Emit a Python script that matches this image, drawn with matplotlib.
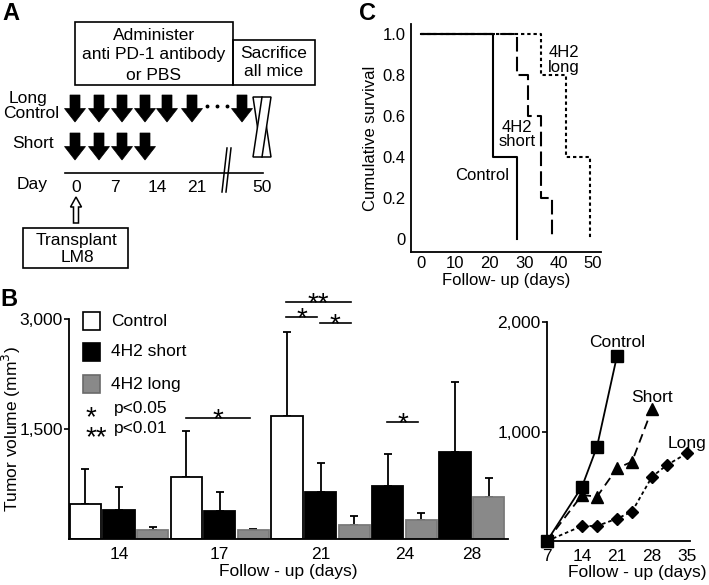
import matplotlib
matplotlib.use('Agg')
import matplotlib.pyplot as plt
from matplotlib.patches import Rectangle, Polygon

plt.rcParams['font.family'] = ['Liberation Sans', 'DejaVu Sans']
plt.rcParams['font.size'] = 12
plt.rcParams['axes.linewidth'] = 1.3

W, H = 709, 585

# ---------------- Panel C: survival ----------------
surv_ctrl_days = [0, 21, 28]
surv_ctrl = [1.0, 0.4, 0.0]
surv_short_days = [0, 28, 31, 35, 38]
surv_short = [1.0, 0.8, 0.6, 0.2, 0.0]
surv_long_days = [0, 35, 42, 49]
surv_long = [1.0, 0.8, 0.4, 0.0]
surv_yticks = [0, 0.2, 0.4, 0.6, 0.8, 1.0]
surv_yticklabels = ['0', '0.2', '0.4', '0.6', '0.8', '1.0']
surv_xticks = [0, 10, 20, 30, 40, 50]

# ---------------- Panel B: bars ----------------
bar_days = ['14', '17', '21', '24', '28']
ctrl_mean = [482, 845, 1682, None, None]
ctrl_err = [473, 623, 1140, None, None]
short_mean = [400, 377, 641, 723, 1186]
short_err = [309, 268, 391, 436, 955]
long_mean = [118, 127, 195, 255, 568]
long_err = [46, 9, 114, 95, 259]
bar_yticks = [1500, 3000]
bar_yticklabels = ['1,500', '3,000']

# ---------------- Panel B: growth curves ----------------
curve_ctrl_days = [7, 14, 17, 21]
curve_ctrl = [0, 496, 861, 1690]
curve_short_days = [7, 14, 17, 21, 24, 28]
curve_short = [0, 420, 405, 664, 724, 1203]
curve_long_days = [7, 14, 17, 21, 24, 28, 31, 35]
curve_long = [0, 137, 137, 204, 268, 587, 694, 801]
curve_xticks = [7, 14, 21, 28, 35]
curve_yticks = [1000, 2000]
curve_yticklabels = ['1,000', '2,000']

fig = plt.figure(figsize=(W / 100, H / 100), dpi=100)


def ax_rect(l, t, r, b):
    return [l / W, 1 - b / H, (r - l) / W, (b - t) / H]


# ---------- C ----------
axc = fig.add_axes(ax_rect(411, 24, 601, 252))
axc.plot(surv_ctrl_days, surv_ctrl, drawstyle='steps-post', color='black', lw=1.5)
axc.plot(surv_short_days, surv_short, drawstyle='steps-post', color='black', lw=1.5,
         dashes=(7, 2.5))
axc.plot(surv_long_days, surv_long, drawstyle='steps-post', color='black', lw=1.5,
         dashes=(1.6, 1.4))
axc.set_xlim(-2.9, 52.3)
axc.set_ylim(-0.062, 1.05)
axc.set_xticks(surv_xticks)
axc.set_yticks(surv_yticks)
axc.set_yticklabels(surv_yticklabels)
axc.tick_params(length=0, labelsize=12)
axc.tick_params(axis='x', pad=3)
axc.tick_params(axis='y', pad=4)
for s in ['top', 'right']:
    axc.spines[s].set_visible(False)
axc.set_xlabel('Follow- up (days)', fontsize=12)
axc.set_ylabel('Cumulative survival', fontsize=12)
axc.xaxis.set_label_coords(0.5, -0.09)
axc.yaxis.set_label_coords(-0.175, 0.5)
axc.text(41.6, 0.875, '4H2\nlong', ha='center', va='center', linespacing=0.95, fontsize=12)
axc.text(27.9, 0.51, '4H2\nshort', ha='center', va='center', linespacing=0.95, fontsize=12)
axc.text(17.7, 0.31, 'Control', ha='center', va='center', fontsize=12)

# ---------- B bars ----------
axb = fig.add_axes(ax_rect(69, 319, 508, 539))
series = [(ctrl_mean, ctrl_err, 'white', 'black'),
          (short_mean, short_err, 'black', 'black'),
          (long_mean, long_err, '#898989', '#7a7a7a')]
slot = 0
tick_pos = []
group_slots = []
for gi in range(len(bar_days)):
    slots = []
    for mean, err, fc, ec in series:
        if mean[gi] is None:
            continue
        axb.bar(slot, mean[gi], width=0.93, color=fc, edgecolor=ec, linewidth=1.3, zorder=2)
        axb.errorbar(slot, mean[gi], yerr=[[0], [err[gi]]], color='black', lw=1.3,
                     capsize=3, capthick=1.3, zorder=1)
        slots.append(slot)
        slot += 1
    group_slots.append(slots)
    tick_pos.append(sum(slots) / len(slots))
axb.set_xlim(-0.49, 12.58)
axb.set_ylim(0, 3000)
axb.set_xticks(tick_pos)
axb.set_xticklabels(bar_days)
axb.set_yticks(bar_yticks)
axb.set_yticklabels(bar_yticklabels)
axb.tick_params(axis='x', length=0, pad=6, labelsize=12.5)
axb.tick_params(axis='y', length=3.5, width=1.2, pad=1, labelsize=12.5)
for s in ['top', 'right']:
    axb.spines[s].set_visible(False)
axb.set_xlabel('Follow - up (days)', fontsize=12.5)
axb.set_ylabel('Tumor volume (mm$^3$)', fontsize=12.5)
axb.xaxis.set_label_coords(0.5, -0.115)
axb.yaxis.set_label_coords(-0.105, 0.5)

# significance brackets: (group, first member, last member, height, label)
sig = [(1, 0, 2, 1650, '*'), (2, 0, 2, 3232, '**'), (2, 0, 1, 3027, '*'),
       (2, 1, 2, 2945, '*'), (3, 0, 1, 1595, '*')]
for g, a, b, yv, lab in sig:
    x1 = group_slots[g][a] - 0.02
    x2 = group_slots[g][b] - 0.1
    axb.plot([x1, x2], [yv, yv], color='black', lw=1.2, clip_on=False)
    axb.annotate(lab, ((x1 + x2) / 2, yv), xytext=(0, -6.8), textcoords='offset points',
                 ha='center', va='baseline', fontsize=20, annotation_clip=False)

# ---------- B curves ----------
axl = fig.add_axes(ax_rect(547, 322, 690, 541))
axl.plot(curve_ctrl_days, curve_ctrl, color='black', lw=1.3, marker='s', ms=8,
         clip_on=False, zorder=3)
axl.plot(curve_short_days, curve_short, color='black', lw=1.3, marker='^', ms=9,
         dashes=(5, 3), clip_on=False, zorder=3)
axl.plot(curve_long_days, curve_long, color='black', lw=1.3, marker='D', ms=6,
         dashes=(2, 1.6), clip_on=False, zorder=3)
axl.set_xlim(7, 35.6)
axl.set_ylim(0, 2000)
axl.set_xticks(curve_xticks)
axl.set_yticks(curve_yticks)
axl.set_yticklabels(curve_yticklabels)
axl.tick_params(axis='x', length=0, pad=6, labelsize=12.5)
axl.tick_params(axis='y', length=3.5, width=1.2, pad=1, labelsize=12.5)
for s in ['top', 'right']:
    axl.spines[s].set_visible(False)
axl.set_xlabel('Follow - up (days)', fontsize=12.5)
axl.xaxis.set_label_coords(0.63, -0.11)
axl.text(21, 1811, 'Control', ha='center', va='center', fontsize=12.5)
axl.text(28, 1315, 'Short', ha='center', va='center', fontsize=12.5)
axl.text(35, 892, 'Long', ha='center', va='center', fontsize=12.5)

# ---------- overlay: panel A diagram, legend, letters ----------
ax0 = fig.add_axes([0, 0, 1, 1], zorder=10)
ax0.set_xlim(0, W)
ax0.set_ylim(H, 0)
ax0.axis('off')
ax0.patch.set_alpha(0)

fs = 12.5
ax0.text(11, 14, 'A', fontsize=17, fontweight='bold', ha='center', va='center')
ax0.text(9, 299, 'B', fontsize=17, fontweight='bold', ha='center', va='center')
ax0.text(367, 14, 'C', fontsize=17, fontweight='bold', ha='center', va='center')

ax0.add_patch(Rectangle((75, 22), 158, 63, fill=False, lw=1.2, ec='black'))
ax0.add_patch(Rectangle((233, 40), 82, 45, fill=False, lw=1.2, ec='black'))
ax0.text(154, 35, 'Administer', ha='center', va='center', fontsize=fs)
ax0.text(154, 55, 'anti PD-1 antibody', ha='center', va='center', fontsize=fs)
ax0.text(154, 75, 'or PBS', ha='center', va='center', fontsize=fs)
ax0.text(274, 53, 'Sacrifice', ha='center', va='center', fontsize=fs)
ax0.text(274, 72, 'all mice', ha='center', va='center', fontsize=fs)

ax0.text(28, 98, 'Long', ha='center', va='center', fontsize=fs)
ax0.text(31, 114, 'Control', ha='center', va='center', fontsize=fs)
ax0.text(33, 143, 'Short', ha='center', va='center', fontsize=fs)
ax0.text(32, 184, 'Day', ha='center', va='center', fontsize=fs)


def down_arrow(xc, top, bot):
    mid = top + (bot - top) * 0.5
    sw, hw = 5, 10.5
    pts = [(xc - sw, top), (xc + sw, top), (xc + sw, mid), (xc + hw, mid),
           (xc, bot), (xc - hw, mid), (xc - sw, mid)]
    ax0.add_patch(Polygon(pts, closed=True, fc='black', ec='black', lw=0.5))


long_arrows_x = [75, 99, 122, 145, 167, 192, 242]
short_arrows_x = [75, 99, 122, 145]
for xa in long_arrows_x:
    down_arrow(xa, 95, 122)
for xa in short_arrows_x:
    down_arrow(xa, 133, 160)
for xd in [207, 217, 227]:
    ax0.plot(xd, 106, 'o', ms=1.8, color='black')

# cross
ax0.add_patch(Polygon([(253, 97), (262, 97), (271, 157), (262, 157)],
                      closed=True, fc='white', ec='black', lw=1.1))
ax0.add_patch(Polygon([(262, 97), (271, 97), (262, 157), (253, 157)],
                      closed=True, fc='white', ec='black', lw=1.1))

# day line
ax0.plot([65, 263], [173, 173], color='black', lw=1.2)
ax0.plot([222, 227], [192, 148], color='black', lw=1.1)
ax0.plot([226, 231], [192, 148], color='black', lw=1.1)
for lab, xl in zip(['0', '7', '14', '21', '50'], [76, 115, 157, 197, 262]):
    ax0.text(xl, 188, lab, ha='center', va='center', fontsize=fs)

# hollow up arrow
ax0.add_patch(Polygon([(73.5, 223), (78.5, 223), (78.5, 207), (81.5, 207), (76, 197),
                       (70.5, 207), (73.5, 207)], closed=True, fc='white', ec='black', lw=1.1))
ax0.add_patch(Rectangle((23, 228), 105, 40, fill=False, lw=1.2, ec='black'))
ax0.text(77, 240, 'Transplant', ha='center', va='center', fontsize=fs)
ax0.text(77, 258, 'LM8', ha='center', va='center', fontsize=fs)

# legend of B
leg = [('Control', 'white', 'black', 321), ('4H2 short', 'black', 'black', 352),
       ('4H2 long', '#898989', '#6a6a6a', 384)]
for lab, fc, ec, yc in leg:
    ax0.add_patch(Rectangle((83, yc - 9), 17, 18, fc=fc, ec=ec, lw=1.2))
    ax0.text(111, yc, lab, ha='left', va='center', fontsize=12.5)
ax0.text(86, 428, '*\n**', ha='left', va='center', multialignment='left',
         linespacing=0.72, fontsize=20)
ax0.text(114, 408, 'p<0.05', ha='left', va='center', fontsize=12.5)
ax0.text(114, 429, 'p<0.01', ha='left', va='center', fontsize=12.5)

fig.savefig('out.png', dpi=100)
